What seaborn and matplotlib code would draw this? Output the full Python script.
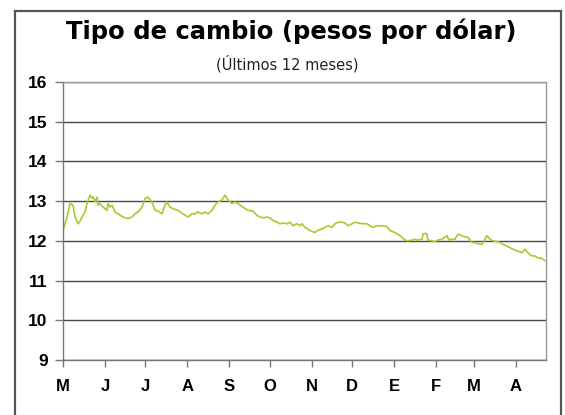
import matplotlib
matplotlib.use("Agg")
import matplotlib.pyplot as plt
import seaborn as sns
import pandas as pd
from matplotlib.patches import Rectangle

# Days since May 1 and exchange rate (pesos per dollar)
dias = [0.0, 3.0, 5.2, 7.4, 8.9, 11.1, 12.6, 14.1, 16.3, 17.8, 20.0, 21.5, 22.2, 23.7, 25.2,
        25.9, 27.4, 29.6, 32.6, 33.3, 34.8, 36.3, 38.5, 40.7, 44.4, 48.1, 51.1, 53.3, 55.5,
        58.5, 60.7, 62.9, 65.9, 68.1, 70.3, 73.3, 75.5, 77.0, 79.2, 81.4, 85.1, 88.8, 92.5,
        95.5, 97.7, 99.9, 102.9, 105.1, 107.3, 110.3, 112.5, 114.7, 117.7, 119.9, 122.1,
        125.1, 127.3, 129.5, 133.2, 136.9, 140.6, 143.6, 145.8, 148.0, 151.0, 153.2, 155.4,
        158.4, 160.6, 162.8, 165.8, 168.0, 170.2, 173.2, 175.4, 176.9, 179.1, 182.8, 186.5,
        188.7, 191.7, 193.9, 196.1, 199.1, 201.3, 203.5, 206.5, 208.7, 210.9, 213.9, 216.1,
        218.3, 222.0, 225.0, 227.2, 229.4, 232.4, 236.1, 239.8, 242.0, 245.7, 247.9, 250.9,
        253.1, 255.3, 258.3, 260.5, 262.7, 265.7, 266.4, 267.9, 269.4, 270.1, 273.1, 275.3,
        277.5, 280.5, 284.2, 285.6, 287.9, 290.1, 292.3, 295.3, 297.5, 299.7, 302.7, 304.9,
        307.1, 310.1, 311.5, 313.8, 316.0, 318.2, 321.2, 323.4, 325.6, 328.6, 330.8, 333.0,
        336.7, 339.7, 341.9, 344.1, 347.1, 349.3, 351.5, 354.5, 356.7]
tipo_cambio = [12.26, 12.60, 12.94, 12.90, 12.60, 12.43, 12.50, 12.60, 12.73, 12.94, 13.15, 13.07,
               13.11, 12.98, 13.10, 12.90, 12.94, 12.85, 12.77, 12.94, 12.85, 12.90, 12.73, 12.68,
               12.60, 12.56, 12.60, 12.68, 12.73, 12.85, 13.07, 13.10, 12.98, 12.77, 12.75, 12.68,
               12.90, 12.98, 12.85, 12.81, 12.77, 12.68, 12.60, 12.68, 12.68, 12.73, 12.68, 12.73,
               12.68, 12.77, 12.90, 12.98, 13.03, 13.15, 13.03, 12.94, 12.98, 12.94, 12.85, 12.77,
               12.75, 12.64, 12.60, 12.58, 12.60, 12.58, 12.51, 12.47, 12.43, 12.45, 12.43, 12.47,
               12.38, 12.43, 12.38, 12.43, 12.34, 12.26, 12.21, 12.27, 12.30, 12.34, 12.38, 12.34,
               12.43, 12.47, 12.47, 12.45, 12.38, 12.43, 12.47, 12.45, 12.43, 12.43, 12.38, 12.34,
               12.38, 12.38, 12.36, 12.26, 12.21, 12.17, 12.09, 12.02, 12.00, 12.02, 12.04, 12.02,
               12.04, 12.17, 12.19, 12.17, 12.02, 12.00, 11.98, 12.02, 12.04, 12.13, 12.02, 12.04,
               12.04, 12.17, 12.13, 12.10, 12.09, 11.96, 11.96, 11.93, 11.91, 12.00, 12.13, 12.04,
               12.00, 11.98, 11.96, 11.91, 11.87, 11.83, 11.79, 11.74, 11.70, 11.79, 11.70, 11.62,
               11.62, 11.57, 11.56, 11.50]
meses = ["M", "J", "J", "A", "S", "O", "N", "D", "E", "F", "M", "A"]
inicio_mes = [0, 31, 61, 92, 123, 153, 184, 214, 245, 276, 304, 335]
y_ticks = [9, 10, 11, 12, 13, 14, 15, 16]

df = pd.DataFrame({"dia": dias, "valor": tipo_cambio})

sns.set_theme(style="white")
plt.rcParams["font.family"] = ["DejaVu Sans"]

fig = plt.figure(figsize=(5.65, 4.15), dpi=100)
ax = fig.add_axes([63/565, 1 - 360/415, (546 - 63)/565, (360 - 82)/415])

sns.lineplot(data=df, x="dia", y="valor", ax=ax, color="#a2cc30", linewidth=1.2)

ax.set_xlim(0, 357.5)
ax.set_ylim(9, 16)
ax.set_yticks(y_ticks)
ax.set_yticklabels([str(v) for v in y_ticks], fontsize=12.5, fontweight="bold",
                   family="Liberation Sans", color="#000000")
ax.set_xticks(inicio_mes)
ax.set_xticklabels(meses, fontsize=12, fontweight="bold", family="Liberation Sans",
                   color="#000000")
ax.set_xlabel("")
ax.set_ylabel("")
ax.grid(axis="y", color="#4a4a4a", linewidth=1.0)
ax.grid(axis="x", visible=False)
ax.tick_params(axis="y", direction="out", length=6, width=1, color="#777777", pad=5,
               left=True)
ax.tick_params(axis="x", direction="out", length=5, width=1, color="#777777", pad=9,
               bottom=True)
for side in ["left", "bottom"]:
    ax.spines[side].set_color("#777777")
    ax.spines[side].set_linewidth(1.0)
for side in ["top", "right"]:
    ax.spines[side].set_visible(True)
    ax.spines[side].set_color("#999999")
    ax.spines[side].set_linewidth(1.0)

fig.text(291/565, 1 - 31/415, "Tipo de cambio (pesos por dólar)", ha="center", va="center",
         fontsize=17.5, fontweight="bold", color="#000000")
fig.text(287/565, 1 - 64/415, "(Últimos 12 meses)", ha="center", va="center",
         fontsize=10.5, color="#222222")

fig.patches.append(Rectangle((15/565, -0.05), (561 - 15)/565, 1.05 - 11/415,
                             transform=fig.transFigure, fill=False,
                             edgecolor="#555555", linewidth=1.6))

fig.savefig("out.png", dpi=100)
